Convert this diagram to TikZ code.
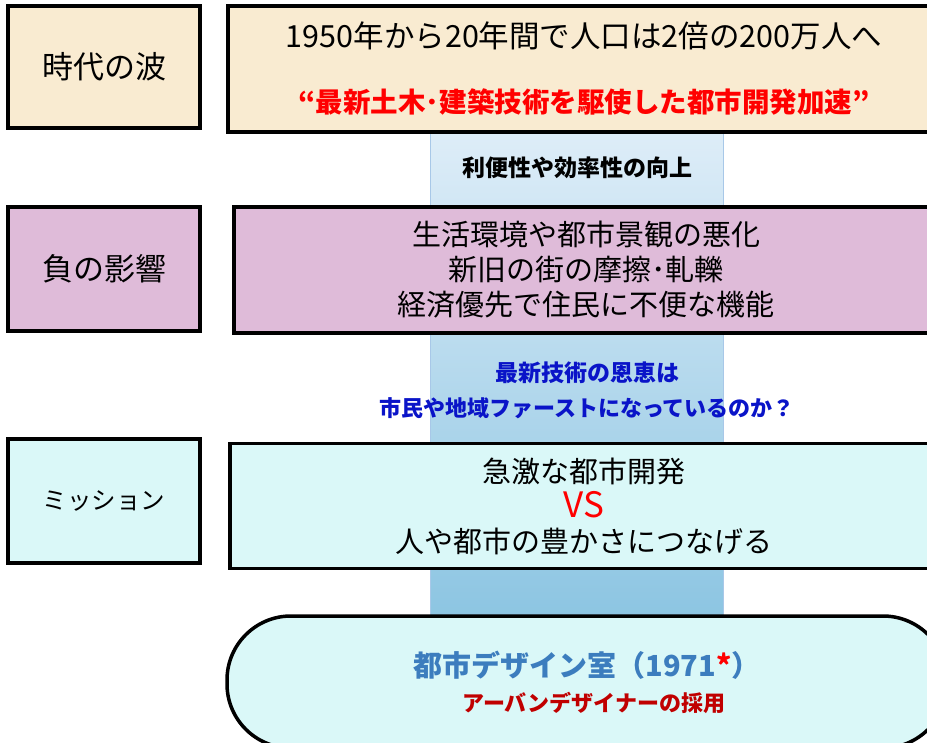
\documentclass[tikz,border=0pt]{standalone}
\usepackage{fontspec}
\setmainfont{Noto Sans CJK JP}
\usepackage{tikz}
\definecolor{wave_bg}{HTML}{F9EBD1}
\definecolor{harm_bg}{HTML}{DFBBD9}
\definecolor{mission_bg}{HTML}{DAF8F8}
\definecolor{band_top}{HTML}{DEEDF8}
\definecolor{band_bot}{HTML}{8CC5E2}
\definecolor{band_edge}{HTML}{A8C8E8}
\definecolor{hh_red}{HTML}{FF0000}
\definecolor{ask_blue}{HTML}{0A14C8}
\definecolor{office_blue}{HTML}{3C7DBE}
\definecolor{dark_red}{HTML}{C00000}

\tikzset{
    label_box/.style={draw=black, line width=3.5pt, minimum width=192pt, minimum height=124pt, inner sep=0pt, font=\fontsize{31}{35}\selectfont},
    main_box/.style={draw=black, line width=3.5pt, inner sep=0pt, align=center, font=\fontsize{29}{35}\selectfont},
}

\begin{document}
\begin{tikzpicture}[x=1pt, y=-1pt]
            \useasboundingbox (0,0) rectangle (927,743);
            \clip (0,0) rectangle (927,743);

            % band behind the boxes
            \shadedraw[top color=band_top, bottom color=band_bot, draw=band_edge, line width=1pt] (430,130) rectangle (723,618);

            \node[label_box, fill=wave_bg, minimum height=122pt] (wave) at (104,67) {時代の波};
            \node[label_box, fill=harm_bg] (harm) at (104,269) {負の影響};
            \node[label_box, fill=mission_bg, font=\fontsize{24.5}{30}\selectfont] (mission) at (104,501) {ミッション};

            \node[main_box, fill=wave_bg, minimum width=712pt, minimum height=126pt] (trend) at (584,69)
                {\fontsize{30.5}{35}\selectfont 1950年から20年間で人口は2倍の200万人へ\\[30pt]
                 {\color{hh_red}\bfseries\fontsize{27.5}{30}\selectfont “最新土木･建築技術を駆使した都市開発加速”}};
            \node[main_box, fill=harm_bg, minimum width=704pt, minimum height=126pt] (issues) at (586,270)
                {生活環境や都市景観の悪化\\新旧の街の摩擦･軋轢\\経済優先で住民に不便な機能};
            \node[main_box, fill=mission_bg, minimum width=708pt, minimum height=125pt] (goal) at (584,506)
                {急激な都市開発\\{\color{hh_red}\fontsize{35}{35}\selectfont VS}\\人や都市の豊かさにつなげる};
            \node[main_box, fill=mission_bg, minimum width=720pt, minimum height=132pt, rounded corners=64pt] (office) at (587,682)
                {{\color{office_blue}\bfseries\fontsize{29}{33}\selectfont 都市デザイン室（1971{\color{hh_red}*}）}\\
                 \hspace*{14pt}{\color{dark_red}\bfseries\fontsize{22}{26}\selectfont アーバンデザイナーの採用}};

            \node[font=\bfseries\fontsize{23}{28}\selectfont] (gain) at (577,168) {利便性や効率性の向上};
            \node[ask_blue, align=center, font=\bfseries\fontsize{22}{35}\selectfont] (ask) at (587,390)
                {{\fontsize{23}{35}\selectfont 最新技術の恩恵は}\\市民や地域ファーストになっているのか？};

        \end{tikzpicture}
\end{document}
